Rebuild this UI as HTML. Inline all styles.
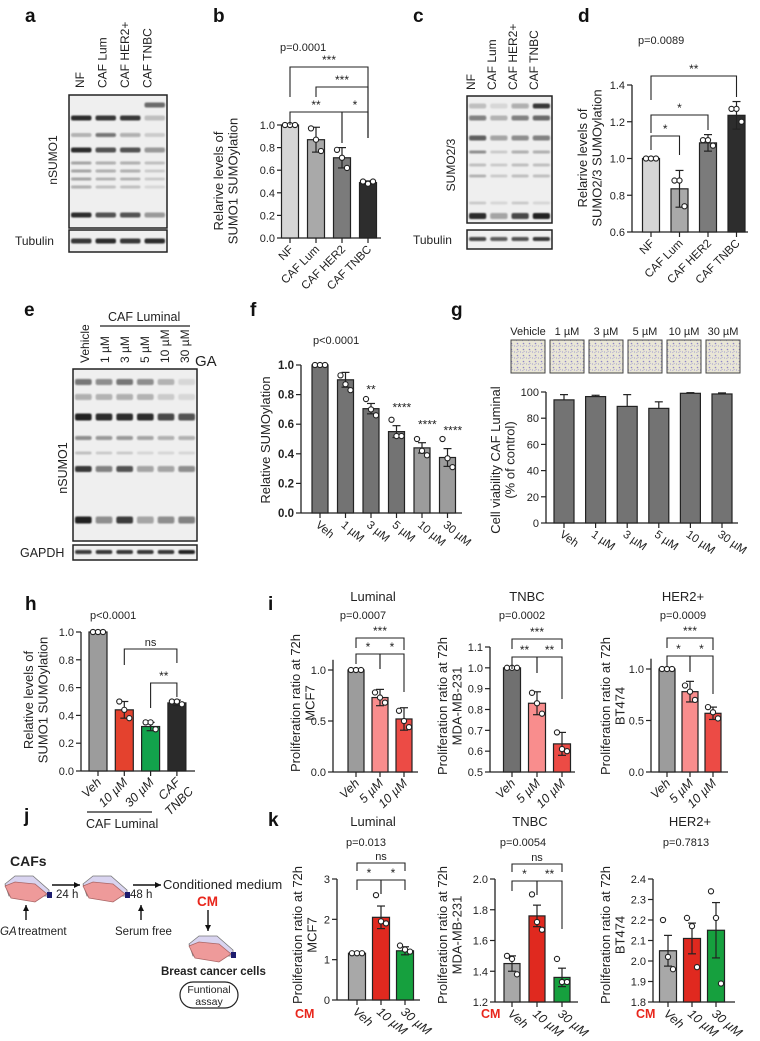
<!DOCTYPE html>
<html><head><meta charset="utf-8">
<style>
html,body{margin:0;padding:0;background:#fff;}
svg{display:block;font-family:"Liberation Sans",Arial,sans-serif;}
</style></head>
<body>
<svg id="fig" width="760" height="1041" viewBox="0 0 760 1041" xmlns="http://www.w3.org/2000/svg">
<defs>
<filter id="blur1" x="-20%" y="-200%" width="140%" height="500%"><feGaussianBlur stdDeviation="0.9"/></filter>
<pattern id="cells" width="6" height="6" patternUnits="userSpaceOnUse">
<rect width="6" height="6" fill="#e9e6d6"/>
<circle cx="1.5" cy="1.5" r="0.8" fill="#8e86c8"/>
<circle cx="4.5" cy="4" r="0.6" fill="#a49cd4"/>
<path d="M0 5 L3 3" stroke="#9a92cc" stroke-width="0.5"/>
</pattern>
</defs>
</svg>
<script>
// ===== chart data =====
const bCats = ["NF","CAF Lum","CAF HER2","CAF TNBC"];
const bVals = [1.0,0.87,0.71,0.49];
const bErr = [0,0.11,0.09,0.015];
const bPts = [[1,1,1],[0.97,0.87,0.77],[0.78,0.71,0.62],[0.5,0.48,0.5]];
const bTicks = [0,0.2,0.4,0.6,0.8,1.0];

const dCats = ["NF","CAF Lum","CAF HER2","CAF TNBC"];
const dVals = [1.0,0.835,1.085,1.235];
const dErr = [0,0.1,0.045,0.075];
const dPts = [[1,1,1],[0.88,0.88,0.74],[1.1,1.1,1.07],[1.27,1.27,1.2]];
const dTicks = [0.6,0.8,1.0,1.2,1.4];

const fCats = ["Veh","1 µM","3 µM","5 µM","10 µM","30 µM"];
const fVals = [1.0,0.9,0.705,0.55,0.44,0.375];
const fErr = [0,0.05,0.035,0.04,0.035,0.06];
const fPts = [[1,1,1],[0.93,0.87,0.83],[0.77,0.7,0.66],[0.63,0.52,0.52],[0.5,0.42,0.39],[0.5,0.37,0.31]];
const fStars = ["","","**","****","****","****"];
const fTicks = [0,0.2,0.4,0.6,0.8,1.0];

const gCats = ["Veh","1 µM","3 µM","5 µM","10 µM","30 µM"];
const gVals = [94,96.5,89,87.5,99,98.5];
const gErr = [4,1,9,5,0.5,0.8];
const gTicks = [0,20,40,60,80,100];

const hCats = ["Veh","10 µM","30 µM","CAF TNBC"];
const hVals = [1.0,0.44,0.32,0.49];
const hErr = [0,0.06,0.03,0.02];
const hPts = [[1,1,1],[0.5,0.44,0.38],[0.35,0.35,0.3],[0.5,0.5,0.48]];
const hTicks = [0,0.2,0.4,0.6,0.8,1.0];

const iCats = ["Veh","5 µM","10 µM"];
const iLumVals = [1.0,0.73,0.52];
const iLumErr = [0,0.08,0.11];
const iLumPts = [[1,1,1],[0.78,0.73,0.68],[0.6,0.5,0.44]];
const iLumTicks = [0,0.5,1.0];
const iTnVals = [1.0,0.83,0.635];
const iTnErr = [0,0.055,0.055];
const iTnPts = [[1,1,1],[0.88,0.83,0.78],[0.69,0.61,0.6]];
const iTnTicks = [0.5,0.6,0.7,0.8,0.9,1.0,1.1];
const iHerVals = [1.0,0.78,0.57];
const iHerErr = [0,0.1,0.06];
const iHerPts = [[1,1,1],[0.84,0.78,0.7],[0.63,0.58,0.52]];
const iHerTicks = [0,0.5,1.0];

const kCats = ["Veh","10 µM","30 µM"];
const kLumVals = [1.16,2.05,1.22];
const kLumErr = [0,0.28,0.1];
const kLumPts = [[1.16,1.16,1.16],[2.6,1.95,1.9],[1.35,1.25,1.2]];
const kLumTicks = [0,1,2,3];
const kTnVals = [1.45,1.76,1.36];
const kTnErr = [0.05,0.07,0.06];
const kTnPts = [[1.5,1.48,1.38],[1.9,1.72,1.67],[1.48,1.33,1.33]];
const kTnTicks = [1.2,1.4,1.6,1.8,2.0];
const kHerVals = [2.05,2.11,2.15];
const kHerErr = [0.075,0.075,0.135];
const kHerPts = [[2.2,2.02,1.96],[2.21,2.17,1.97],[2.34,2.21,1.89]];
const kHerTicks = [1.8,1.9,2.0,2.1,2.2,2.3,2.4];

// ===== helpers =====
const NS = "http://www.w3.org/2000/svg";
const svg = document.getElementById("fig");
function mk(tag, parent){ const e = document.createElementNS(NS, tag); (parent||svg).appendChild(e); return e; }
function at(e, k, v){ e.setAttribute(k, v); }
function txt(parent, s, x, y, size, opts){
  opts = opts||{};
  const t = mk("text", parent);
  at(t,"x",x); at(t,"y",y); at(t,"font-size",size);
  if(opts.anchor) at(t,"text-anchor",opts.anchor);
  if(opts.weight) at(t,"font-weight",opts.weight);
  if(opts.fill) at(t,"fill",opts.fill); else at(t,"fill","#222");
  if(opts.rot!==undefined) at(t,"transform","rotate("+opts.rot+" "+x+" "+y+")");
  if(opts.italic) at(t,"font-style","italic");
  t.textContent = s;
  return t;
}
function line(parent,x1,y1,x2,y2,w,c){
  const l = mk("line",parent);
  at(l,"x1",x1);at(l,"y1",y1);at(l,"x2",x2);at(l,"y2",y2);
  at(l,"stroke",c||"#222");at(l,"stroke-width",w||1.2);
  return l;
}
function yS(o,v){ return o.yb + (v-o.vmin)/(o.vmax-o.vmin)*(o.yt-o.yb); }
function xS(o,i){ return o.c0 + i*o.step; }

function drawChart(o){
  const g = mk("g");
  
  
  const ya = line(g, o.ax, o.yb, o.ax, yS(o, o.axTop!==undefined?o.axTop:o.vmax), 1.3);
  
  
  o.ticks.forEach(function(tv){
    const ty = yS(o,tv);
    line(g, o.ax-5, ty, o.ax, ty, 1.2);
    const tl = txt(g, o.fmt(tv), o.ax-7, ty+4, o.tfs||11, {anchor:"end", weight:o.bold?"bold":null});
    
    
  });
  const xa = line(g, o.ax, o.yb, o.xEnd, o.yb, 1.3);
  
  
  o.vals.forEach(function(v,i){
    const cx = xS(o,i);
    const top = yS(o,v);
    const r = mk("rect", g);
    at(r,"x",cx-o.w/2); at(r,"y",top); at(r,"width",o.w); at(r,"height",Math.max(0,o.yb-top));
    at(r,"fill",o.colors[i]); at(r,"stroke","#222"); at(r,"stroke-width",1.2);
    
    
    line(g, cx, o.yb, cx, o.yb+5, 1.2);
    if(o.err && o.err[i]>0){
      const e1 = yS(o, v+o.err[i]);
      const e0 = o.bothErr ? yS(o, v-o.err[i]) : top;
      const eb = line(g, cx, e0, cx, e1, 1.2);
      
      
      line(g, cx-4, e1, cx+4, e1, 1.2);
      if(o.bothErr) line(g, cx-4, e0, cx+4, e0, 1.2);
    }
    if(o.pts){
      const offs = [-5,0,5];
      o.pts[i].forEach(function(p,k){
        const c = mk("circle", g);
        at(c,"cx",cx+offs[k]); at(c,"cy",yS(o,p)); at(c,"r",2.6);
        at(c,"fill","#fff"); at(c,"stroke","#222"); at(c,"stroke-width",1.1);
        
        
      });
    }
    const lab = o.cats[i];
    let xl;
    if(o.rot<0){
      xl = txt(g, lab, cx+4, o.yb+12, o.xfs||11.5, {anchor:"end", rot:o.rot, italic:o.italic});
    } else {
      xl = txt(g, lab, cx-5, o.yb+13, o.xfs||11.5, {anchor:"start", rot:o.rot, italic:o.italic});
    }
    
    
  });
  return g;
}
function bracket(o, g, i, j, y, label, dl, dr){
  const x1 = xS(o,i), x2 = xS(o,j);
  const p = mk("path", g);
  at(p,"d","M"+x1+" "+(y+dl)+" L"+x1+" "+y+" L"+x2+" "+y+" L"+x2+" "+(y+dr));
  at(p,"fill","none"); at(p,"stroke","#222"); at(p,"stroke-width",1.1);
  
  
  const t = txt(g, label, (x1+x2)/2, y-3, label==="ns"?11:12, {anchor:"middle"});
  
  
}
function ylabel(lines, x, y, size){
  lines.forEach(function(s, k){
    const t = txt(svg, s, x + k*(size+1.5), y, size, {anchor:"middle", rot:-90});
    
    
  });
}
function panelLetter(s,x,y){
  const t = txt(svg, s, x, y, 19, {weight:"bold", fill:"#111"});
  
  
}
function label(s,x,y,size,opts,name){
  const t = txt(svg, s, x, y, size, opts);
  
  
  return t;
}
const f1 = function(v){ return v.toFixed(1); };
const f0 = function(v){ return v.toFixed(0); };

// ===== blots =====
function blot(x,y,w,h,lanes,bands,name){
  const g = mk("g");
  
  
  const r = mk("rect", g);
  at(r,"x",x);at(r,"y",y);at(r,"width",w);at(r,"height",h);
  at(r,"fill","#efefef");at(r,"stroke","#222");at(r,"stroke-width",1.5);
  const lw = w/lanes;
  bands.forEach(function(b){
    b[2].forEach(function(a,li){
      if(a<=0) return;
      const e = mk("rect", g);
      at(e,"x",x+li*lw+2);at(e,"y",y+b[0]-b[1]/2);at(e,"width",lw-4);at(e,"height",b[1]);
      at(e,"rx",2);at(e,"fill","rgba(20,20,20,"+a+")");at(e,"filter","url(#blur1)");
    });
  });
  return g;
}
// panel a
panelLetter("a",25,22);
["NF","CAF Lum","CAF HER2+","CAF TNBC"].forEach(function(s,i){
  label(s, 84+i*22.5, 88, 12, {rot:-90}, "lane-label");
});
blot(69,95,98,133,4,[
  [10,5,[0,0,0,0.6]],[23,5,[0.9,0.85,0.85,0.2]],[40,4,[0.25,0.55,0.3,0.15]],
  [55,5,[0.9,0.7,0.7,0.4]],[68,3,[0.35,0.3,0.3,0.2]],[76,3,[0.35,0.3,0.3,0.15]],
  [84,3,[0.35,0.25,0.25,0.15]],[92,3,[0.3,0.2,0.2,0.1]],[120,5,[0.9,0.7,0.7,0.4]]
],"nsumo1-blot-a");
blot(69,230,98,22,4,[[11,5,[0.85,0.9,0.85,0.9]]],"tubulin-blot-a");
label("nSUMO1",57,160,12,{anchor:"middle",rot:-90},"blot-label");
label("Tubulin",15,245,12,{},"blot-label");

// panel c
panelLetter("c",413,22);
["NF","CAF Lum","CAF HER2+","CAF TNBC"].forEach(function(s,i){
  label(s, 475+i*21, 90, 12, {rot:-90}, "lane-label");
});
blot(467,96,85,127,4,[
  [10,5,[0.2,0.1,0.3,0.85]],[22,5,[0.5,0.25,0.5,0.6]],[42,5,[0.65,0.35,0.45,0.5]],
  [56,3,[0.45,0.15,0.3,0.3]],[69,3,[0.2,0.15,0.2,0.2]],[80,3,[0.25,0.15,0.2,0.2]],
  [107,3,[0.15,0.1,0.15,0.1]],[120,6,[0.9,0.35,0.75,0.95]]
],"sumo23-blot-c");
blot(467,230,85,19,4,[[9,4,[0.75,0.65,0.7,0.85]]],"tubulin-blot-c");
label("SUMO2/3",455,165,12,{anchor:"middle",rot:-90},"blot-label");
label("Tubulin",413,244,12,{},"blot-label");

// panel e
panelLetter("e",24,316);
label("CAF Luminal",108,321,12.5,{},"group-label");
line(svg,100,326,190,326,1.2);
["Vehicle","1 µM","3 µM","5 µM","10 µM","30 µM"].forEach(function(s,i){
  label(s, 89+i*20, 363, 12, {rot:-90}, "lane-label");
});
label("GA",195,366,15,{},"treatment-label");
blot(73,369,124,172,6,[
  [13,6,[0.55,0.45,0.55,0.45,0.25,0.1]],[28,6,[0.3,0.25,0.3,0.25,0.15,0.1]],
  [48,7,[0.95,0.9,0.9,0.9,0.75,0.7]],[69,4,[0.45,0.4,0.4,0.35,0.3,0.3]],
  [84,3,[0.2,0.15,0.15,0.1,0.1,0.1]],[100,6,[0.85,0.5,0.7,0.35,0.35,0.45]],
  [151,7,[0.95,0.45,0.8,0.35,0.45,0.5]]
],"nsumo1-blot-e");
blot(73,545,124,15,6,[[7,4,[0.8,0.85,0.85,0.85,0.85,0.95]]],"gapdh-blot-e");
label("nSUMO1",67,468,12.5,{anchor:"middle",rot:-90},"blot-label");
label("GAPDH",20,557,12.5,{},"blot-label");

// ===== panel b =====
panelLetter("b",213,22);
label("p=0.0001",280,51,11,{},"p-value");
const bO = {name:"chart-b",ax:282,yb:238,yt:125,vmin:0,vmax:1,c0:290,step:26,w:17,xEnd:381,
  ticks:bTicks,fmt:f1,vals:bVals,err:bErr,bothErr:true,pts:bPts,cats:bCats,rot:-45,
  colors:["#d6d6d6","#a9a9a9","#7b7b7b","#2d2d2d"]};
const bG = drawChart(bO);
bracket(bO,bG,0,3,67,"***",30,71);
bracket(bO,bG,1,3,87,"***",10,51);
bracket(bO,bG,0,2,112,"**",13,31);
bracket(bO,bG,2,3,112,"*",31,26);
ylabel(["Relarive levels of","SUMO1 SUMOylation"],223,181,13);

// ===== panel d =====
panelLetter("d",578,22);
label("p=0.0089",638,44,11,{},"p-value");
const dO = {name:"chart-d",ax:632,yb:232,yt:85,vmin:0.6,vmax:1.4,c0:651,step:28.5,w:17,xEnd:748,
  ticks:dTicks,fmt:f1,vals:dVals,err:dErr,bothErr:true,pts:dPts,cats:dCats,rot:-45,
  colors:["#d6d6d6","#a9a9a9","#7b7b7b","#2d2d2d"]};
const dG = drawChart(dO);
bracket(dO,dG,0,3,76,"**",24,21);
bracket(dO,dG,0,2,115,"*",18,15);
bracket(dO,dG,0,1,136,"*",14,19);
ylabel(["Relarive levels of","SUMO2/3  SUMOylation"],587,158,13);

// ===== panel f =====
panelLetter("f",250,316);
label("p<0.0001",313,344,11,{},"p-value");
const fO = {name:"chart-f",ax:301,yb:513,yt:365,vmin:0,vmax:1,c0:320,step:25.5,w:16,xEnd:462,
  ticks:fTicks,fmt:f1,bold:true,tfs:11.5,vals:fVals,err:fErr,bothErr:true,pts:fPts,cats:fCats,rot:40,
  colors:["#737373","#737373","#737373","#737373","#9c9c9c","#9c9c9c"]};
const fG = drawChart(fO);
fVals.forEach(function(v,i){
  if(!fStars[i]) return;
  const st = txt(fG, fStars[i], xS(fO,i)+ (i===2?0:-4), yS(fO, v+fErr[i])-(i===2?10:14), 12, {anchor:i===2?"middle":"start"});
  
  
});
ylabel(["Relative SUMOylation"],270,440,13);

// ===== panel g =====
panelLetter("g",451,316);
["Vehicle","1 µM","3 µM","5 µM","10 µM","30 µM"].forEach(function(s,i){
  const cx = 528+i*39;
  label(s,cx,335,11,{anchor:"middle"},"image-label");
  const r = mk("rect");
  at(r,"x",cx-17);at(r,"y",340);at(r,"width",34);at(r,"height",33);
  at(r,"fill","url(#cells)");at(r,"stroke","#444");at(r,"stroke-width",1);
  
  
});
const gO = {name:"chart-g",ax:546,yb:523,yt:392,vmin:0,vmax:100,c0:564,step:31.6,w:20,xEnd:738,
  ticks:gTicks,fmt:f0,vals:gVals,err:gErr,bothErr:false,pts:null,cats:gCats,rot:35,
  colors:["#737373","#737373","#737373","#737373","#737373","#737373"]};
drawChart(gO);
ylabel(["Cell viability CAF Luminal","(% of control)"],500,460,13);

// ===== panel h =====
panelLetter("h",25,610);
label("p<0.0001",90,619,11,{},"p-value");
const hO = {name:"chart-h",ax:81,yb:771,yt:632,vmin:0,vmax:1,c0:98,step:26.3,w:18,xEnd:195,
  ticks:hTicks,fmt:f1,vals:hVals,err:hErr,bothErr:true,pts:hPts,cats:["Veh","10 µM","30 µM","CAF"],rot:-45,italic:true,xfs:12.5,
  colors:["#9c9c9c","#e4422e","#12a24c","#2a2a2a"]};
const hG = drawChart(hO);
bracket(hO,hG,1,3,649,"ns",16,14);
bracket(hO,hG,2,3,683,"**",25,14);
label("TNBC",194,792,12.5,{anchor:"end",rot:-45,italic:true},"x-tick-label");
line(svg,87,812,152,812,1.2);
label("CAF Luminal",86,828,12.5,{},"group-label");
ylabel(["Relative levels of","SUMO1 SUMOylation"],33,700,13);

// ===== panel i =====
panelLetter("i",268,610);
label("Luminal",373,601,13,{anchor:"middle"},"chart-title");
label("TNBC",527,601,13,{anchor:"middle"},"chart-title");
label("HER2+",683,601,13,{anchor:"middle"},"chart-title");
label("p=0.0007",363,619,11,{anchor:"middle"},"p-value");
label("p=0.0002",522,619,11,{anchor:"middle"},"p-value");
label("p=0.0009",683,619,11,{anchor:"middle"},"p-value");
const redCols = ["#9c9c9c","#f98d8d","#ec4b45"];
const iLO = {name:"chart-i-luminal",ax:333,yb:772,yt:670,vmin:0,vmax:1,axTop:1.1,c0:356,step:24,w:16,xEnd:418,
  ticks:iLumTicks,fmt:f1,vals:iLumVals,err:iLumErr,bothErr:true,pts:iLumPts,cats:iCats,rot:-45,italic:true,xfs:12.5,colors:redCols};
const iLG = drawChart(iLO);
bracket(iLO,iLG,0,2,638,"***",10,12);
bracket(iLO,iLG,0,1,654,"*",10,15);
bracket(iLO,iLG,1,2,654,"*",15,38);
ylabel(["Proliferation ratio at 72h","MCF7"],300,703,13);
const iTO = {name:"chart-i-tnbc",ax:490,yb:772,yt:647,vmin:0.5,vmax:1.1,c0:512,step:25,w:17,xEnd:575,
  ticks:iTnTicks,fmt:f1,vals:iTnVals,err:iTnErr,bothErr:true,pts:iTnPts,cats:iCats,rot:-45,italic:true,xfs:12.5,
  colors:["#707070","#f98d8d","#ec4b45"]};
const iTG = drawChart(iTO);
bracket(iTO,iTG,0,2,639,"***",10,10);
bracket(iTO,iTG,0,1,657,"**",12,16);
bracket(iTO,iTG,1,2,657,"**",16,42);
ylabel(["Proliferation ratio at 72h","MDA-MB-231"],447,706,13);
const iHO = {name:"chart-i-her2",ax:651,yb:772,yt:669,vmin:0,vmax:1,axTop:1.1,c0:667,step:23,w:16,xEnd:728,
  ticks:iHerTicks,fmt:f1,vals:iHerVals,err:iHerErr,bothErr:true,pts:iHerPts,cats:iCats,rot:-45,italic:true,xfs:12.5,colors:redCols};
const iHG = drawChart(iHO);
bracket(iHO,iHG,0,2,638,"***",10,12);
bracket(iHO,iHG,0,1,656,"*",11,16);
bracket(iHO,iHG,1,2,656,"*",16,38);
ylabel(["Proliferation ratio at 72h","BT474"],610,706,13);

// ===== panel j (schematic) =====
panelLetter("j",24,822);
label("CAFs",10,866,14,{weight:"bold"},"schematic-label");
function flask(x,y,name){
  const g = mk("g");
  
  
  const top = mk("path",g);
  at(top,"d","M"+x+" "+(y+8)+" L"+(x+10)+" "+y+" L"+(x+28)+" "+y+" L"+(x+44)+" "+(y+14)+" L"+(x+44)+" "+(y+20)+" L"+(x+4)+" "+(y+20)+" Z");
  at(top,"fill","#d9d4f0");at(top,"stroke","#777");at(top,"stroke-width",0.8);
  const bot = mk("path",g);
  at(bot,"d","M"+x+" "+(y+10)+" L"+(x+10)+" "+(y+6)+" L"+(x+30)+" "+(y+8)+" L"+(x+42)+" "+(y+18)+" L"+(x+30)+" "+(y+26)+" L"+(x+6)+" "+(y+22)+" Z");
  at(bot,"fill","#ee9a9a");at(bot,"stroke","#a66");at(bot,"stroke-width",0.8);
  const cap = mk("rect",g);
  at(cap,"x",x+42);at(cap,"y",y+16);at(cap,"width",5);at(cap,"height",6);at(cap,"fill","#1c1c6e");
}
flask(5,876,"flask-1");
flask(83,876,"flask-2");
flask(189,936,"flask-3");
function arrow(x1,y1,x2,y2,name){
  const l = line(svg,x1,y1,x2,y2,1.4,"#111");
  
  
  const a = mk("path");
  const dx = Math.sign(x2-x1), dy = Math.sign(y2-y1);
  let d;
  if(dx!==0) d = "M"+x2+" "+y2+" L"+(x2-6*dx)+" "+(y2-3)+" L"+(x2-6*dx)+" "+(y2+3)+" Z";
  else d = "M"+x2+" "+y2+" L"+(x2-3)+" "+(y2-6*dy)+" L"+(x2+3)+" "+(y2-6*dy)+" Z";
  at(a,"d",d); at(a,"fill","#111");
}
arrow(52,885,80,885,"arrow-24h");
arrow(133,885,161,885,"arrow-48h");
arrow(26,920,26,905,"arrow-ga");
arrow(141,920,141,905,"arrow-serum");
arrow(208,910,208,931,"arrow-cm");
label("24 h",56,898,11.5,{},"schematic-label");
label("48 h",130,898,11.5,{},"schematic-label");
label("Conditioned medium",163,889,13,{},"schematic-label");
label("CM",197,906,13.5,{weight:"bold",fill:"#e8261c"},"schematic-label");
label("GA",0,935,11.5,{italic:true},"schematic-label");
label("treatment",18,935,11.5,{},"schematic-label");
label("Serum free",115,935,11.5,{},"schematic-label");
label("Breast cancer cells",161,975,11.5,{weight:"bold"},"schematic-label");
const ov = mk("rect");
at(ov,"x",180);at(ov,"y",982);at(ov,"width",58);at(ov,"height",26);at(ov,"rx",13);
at(ov,"fill","#fff");at(ov,"stroke","#222");at(ov,"stroke-width",1.2);


label("Funtional",209,993,10.5,{anchor:"middle"},"schematic-label");
label("assay",209,1005,10.5,{anchor:"middle"},"schematic-label");

// ===== panel k =====
panelLetter("k",268,826);
label("Luminal",373,826,13,{anchor:"middle"},"chart-title");
label("TNBC",530,826,13,{anchor:"middle"},"chart-title");
label("HER2+",690,826,13,{anchor:"middle"},"chart-title");
label("p=0.013",366,846,11,{anchor:"middle"},"p-value");
label("p=0.0054",523,846,11,{anchor:"middle"},"p-value");
label("p=0.7813",686,846,11,{anchor:"middle"},"p-value");
const kCols = ["#a8a8a8","#e0291f","#16a03e"];
const kLO = {name:"chart-k-luminal",ax:337,yb:1000,yt:879,vmin:0,vmax:3,c0:357,step:24,w:17,xEnd:420,
  ticks:kLumTicks,fmt:f0,vals:kLumVals,err:kLumErr,bothErr:true,pts:kLumPts,cats:kCats,rot:40,italic:true,xfs:12.5,colors:kCols};
const kLG = drawChart(kLO);
bracket(kLO,kLG,0,2,863,"ns",8,8);
bracket(kLO,kLG,0,1,880,"*",10,14);
bracket(kLO,kLG,1,2,880,"*",14,10);
ylabel(["Proliferation ratio at 72h","MCF7"],302,935,13);
label("CM",295,1018,12.5,{weight:"bold",fill:"#e8261c"},"cm-label");
const kTO = {name:"chart-k-tnbc",ax:495,yb:1002,yt:879,vmin:1.2,vmax:2.0,c0:512,step:25,w:16,xEnd:578,
  ticks:kTnTicks,fmt:f1,vals:kTnVals,err:kTnErr,bothErr:true,pts:kTnPts,cats:kCats,rot:40,italic:true,xfs:12.5,colors:kCols};
const kTG = drawChart(kTO);
bracket(kTO,kTG,0,2,864,"ns",8,8);
bracket(kTO,kTG,0,1,881,"*",10,14);
bracket(kTO,kTG,1,2,881,"**",14,48);
ylabel(["Proliferation ratio at 72h","MDA-MB-231"],447,935,13);
label("CM",481,1018,12.5,{weight:"bold",fill:"#e8261c"},"cm-label");
const kHO = {name:"chart-k-her2",ax:653,yb:1002,yt:879,vmin:1.8,vmax:2.4,c0:668,step:24,w:17,xEnd:735,
  ticks:kHerTicks,fmt:f1,vals:kHerVals,err:kHerErr,bothErr:true,pts:kHerPts,cats:kCats,rot:40,italic:true,xfs:12.5,colors:kCols};
drawChart(kHO);
ylabel(["Proliferation ratio at 72h","BT474"],610,935,13);
label("CM",636,1018,12.5,{weight:"bold",fill:"#e8261c"},"cm-label");
</script>
</body></html>
